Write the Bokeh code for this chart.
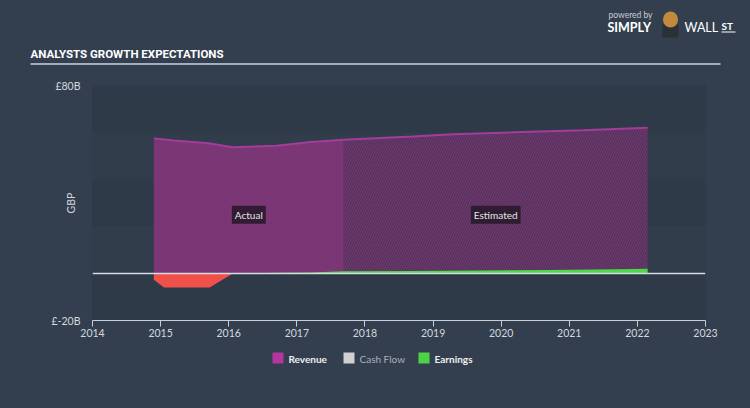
import numpy as np
from bokeh.plotting import figure
from bokeh.models import Range1d, FixedTicker, Label, BoxAnnotation, Span
from bokeh.core.properties import value
from bokeh.embed import file_html
from bokeh.resources import INLINE

# ---------------- data ----------------
x_ticks = [2014, 2015, 2016, 2017, 2018, 2019, 2020, 2021, 2022, 2023]
y_ticks = [-20, 80]
y_tick_labels = ["£-20B", "£80B"]

rev_actual_x = [2014.90, 2015.20, 2015.70, 2016.06, 2016.70, 2017.20, 2017.69]
rev_actual_y = [57.5, 56.6, 55.4, 53.7, 54.4, 56.0, 56.9]
rev_est_x = [2017.69, 2018.70, 2019.30, 2020.30, 2021.20, 2022.15]
rev_est_y = [56.9, 58.3, 59.3, 60.2, 61.0, 62.0]

earn_x = [2014.90, 2015.05, 2015.72, 2016.06, 2016.70, 2017.20, 2017.69, 2018.70, 2019.70, 2020.70, 2021.70, 2022.15]
earn_y = [-2.7, -6.0, -6.0, 0.0, 0.3, 0.4, 1.0, 1.1, 1.3, 1.5, 1.8, 2.0]

legend_names = ["Revenue", "Cash Flow", "Earnings"]
legend_colors = ["#b4359e", "#d0d0d0", "#4cd444"]
legend_text_colors = ["#eef0f2", "#aab1ba", "#eef0f2"]
legend_text_styles = ["bold", "normal", "bold"]

# ---------------- style ----------------
BG = "#333f4f"
BAND_DARK = "#2e3a48"
BAND_LIGHT = "#313d4b"
TXT = "#d3d8de"
FONT = "Lato"

W = 750
HDR_H, MAIN_H, LEG_H = 70, 275, 63


def bare(fig):
    fig.grid.visible = False
    fig.outline_line_color = None
    fig.background_fill_color = BG
    fig.border_fill_color = BG


# ---------------- header (pixel coordinates) ----------------
hdr = figure(width=W, height=HDR_H, output_backend="svg", toolbar_location=None,
             x_range=Range1d(0, W), y_range=Range1d(HDR_H, 0), min_border=0,
             x_axis_location=None, y_axis_location=None)
bare(hdr)
hdr.text(x=[30], y=[53], text=["ANALYSTS GROWTH EXPECTATIONS"], text_color="#ffffff",
         text_font=value("Roboto"), text_font_style="bold",
         text_font_size="11.5px", text_baseline="middle")
hdr.segment(x0=[30], y0=[63.5], x1=[720], y1=[63.5], line_color="#cdd5dd", line_width=1.5)
hdr.text(x=[608], y=[14], text=["powered by"], text_color="#c8ccd2",
         text_font=value(FONT), text_font_size="8.5px", text_baseline="middle")
hdr.text(x=[607], y=[26.5], text=["SIMPLY"], text_color="#ffffff", text_font=value(FONT),
         text_font_style="bold", text_font_size="12.5px", text_baseline="middle")
# simple logo mark
hdr.quad(left=[662], right=[678], top=[24], bottom=[37], fill_color="#2a2f38", line_color=None)
hdr.ellipse(x=[670], y=[19], width=[15], height=[16], fill_color="#c0893c", line_color=None)
hdr.text(x=[684], y=[26.5], text=["WALL"], text_color="#ffffff", text_font=value(FONT),
         text_font_size="12.5px", text_baseline="middle")
hdr.text(x=[721], y=[25.5], text=["ST"], text_color="#ffffff", text_font=value(FONT),
         text_font_style="bold", text_font_size="10px", text_baseline="middle")
hdr.segment(x0=[721], y0=[31.5], x1=[735], y1=[31.5], line_color="#ffffff", line_width=1)

# ---------------- main chart ----------------
p = figure(width=W, height=MAIN_H, output_backend="svg", toolbar_location=None,
           x_range=Range1d(2014, 2023), y_range=Range1d(-20, 80),
           min_border_left=92, min_border_right=45, min_border_top=15, min_border_bottom=25)
p.grid.visible = False
p.outline_line_color = None
p.background_fill_color = BAND_LIGHT
p.border_fill_color = BG

for i, lo in enumerate(range(-20, 80, 20)):
    p.add_layout(BoxAnnotation(bottom=lo, top=lo + 20,
                               fill_color=BAND_DARK if i % 2 == 0 else BAND_LIGHT,
                               fill_alpha=1, line_color=None, level="underlay"))

# revenue
p.varea(x=rev_actual_x, y1=0, y2=rev_actual_y, fill_color="#7b3676")
p.line(rev_actual_x, rev_actual_y, line_color="#a23d99", line_width=2)
p.varea(x=rev_est_x, y1=0, y2=rev_est_y, fill_color="#6d386e",
        hatch_pattern="/", hatch_color="#3a2846", hatch_alpha=0.6,
        hatch_scale=5, hatch_weight=1)
p.line(rev_est_x, rev_est_y, line_color="#a23d99", line_width=2)

# earnings
e = np.array(earn_y)
p.varea(x=earn_x, y1=0, y2=np.minimum(e, 0), fill_color="#f0504a")
p.varea(x=earn_x, y1=0, y2=np.maximum(e, 0), fill_color="#4fd84a")

p.add_layout(Span(location=0, dimension="width", line_color="#d5dbe2", line_width=1.5))

for xs, txt in [(rev_actual_x, "Actual"), (rev_est_x, "Estimated")]:
    p.add_layout(Label(x=(xs[0] + xs[-1]) / 2, y=25, text=txt, text_align="center",
                       text_baseline="middle", text_color="#e6e6e6", text_font_size="10px",
                       text_font=FONT, background_fill_color="#2a1a2e",
                       background_fill_alpha=0.92, padding=3))

xa = p.xaxis[0]
xa.ticker = FixedTicker(ticks=x_ticks)
xa.axis_line_color = "#c8ced6"
xa.major_tick_line_color = "#c8ced6"
xa.major_tick_out = 6
xa.major_tick_in = 0
xa.minor_tick_line_color = None
xa.major_label_standoff = 2
xa.major_label_text_color = TXT
xa.major_label_text_font_size = "10.5px"
xa.major_label_text_font = FONT

ya = p.yaxis[0]
ya.ticker = FixedTicker(ticks=y_ticks)
ya.major_label_overrides = dict(zip(y_ticks, y_tick_labels))
ya.axis_line_color = None
ya.major_tick_line_color = None
ya.minor_tick_line_color = None
ya.major_tick_out = 0
ya.major_label_standoff = 12
ya.major_label_text_color = TXT
ya.major_label_text_font_size = "10.5px"
ya.major_label_text_font = FONT
ya.axis_label = "GBP"
ya.axis_label_text_font_style = "normal"
ya.axis_label_text_color = TXT
ya.axis_label_text_font_size = "10.5px"
ya.axis_label_text_font = FONT
ya.axis_label_standoff = -28

# ---------------- legend (pixel coordinates) ----------------
lg = figure(width=W, height=LEG_H, output_backend="svg", toolbar_location=None,
            x_range=Range1d(0, W), y_range=Range1d(LEG_H, 0), min_border=0,
            x_axis_location=None, y_axis_location=None)
bare(lg)
sw_x = [272, 343, 418]
sw_top = 7
lg.quad(left=sw_x, right=[v + 11 for v in sw_x], top=[sw_top] * 3, bottom=[sw_top + 11] * 3,
        fill_color=legend_colors, line_color=None)
lg.text(x=[v + 16 for v in sw_x], y=[sw_top + 6] * 3, text=legend_names,
        text_color=legend_text_colors, text_font_style=legend_text_styles,
        text_font=value(FONT), text_font_size="10px", text_baseline="middle")

html = file_html([hdr, p, lg], INLINE)
html = html.replace("</head>",
                    "<style>html,body{background-color:%s;}</style></head>" % BG, 1)
open("out.html", "w").write(html)
